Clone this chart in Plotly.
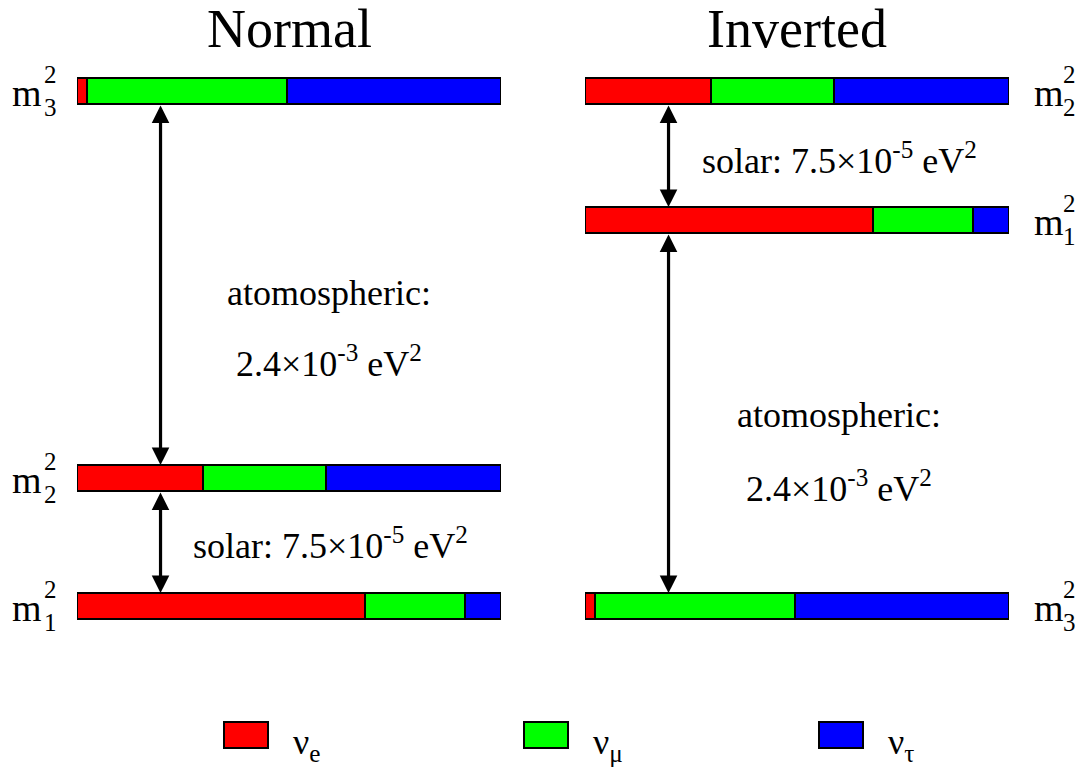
import plotly.graph_objects as go

# ---------------- data ----------------
mass_states = ["1", "2", "3"]
# flavour content of each mass eigenstate (fraction of bar length)
frac_e = [0.680, 0.297, 0.023]
frac_mu = [0.235, 0.290, 0.472]
frac_tau = [0.085, 0.413, 0.505]
flavours = ["ν<sub>e</sub>", "ν<sub>μ</sub>", "ν<sub>τ</sub>"]
panel_titles = ["Normal", "Inverted"]
atm_text = ["atomospheric:", "2.4×10<sup>-3</sup> eV<sup>2</sup>"]
sol_text = "solar: 7.5×10<sup>-5</sup> eV<sup>2</sup>"

# ---------------- layout constants (schematic positions, px) ----------------
W, H = 1075, 772
FONT = "Liberation Serif, Times New Roman, serif"
colors = ["#ff0000", "#00ff00", "#0000ff"]
BAR_H = 26
level_y = {
    "normal": {"3": 91, "2": 478, "1": 606},
    "inverted": {"2": 91, "1": 220, "3": 606},
}
ARROW_X = 0.197


def px(x):
    return x / W


fig = go.Figure()
fracs = [frac_e, frac_mu, frac_tau]
for panel, xa in [("normal", "x"), ("inverted", "x2")]:
    ys = [level_y[panel][m] for m in mass_states]
    for fi in range(3):
        fig.add_trace(go.Bar(
            y=ys, x=fracs[fi], orientation="h", width=BAR_H,
            marker=dict(color=colors[fi], line=dict(color="black", width=2)),
            xaxis=xa, yaxis="y", showlegend=False, hoverinfo="skip",
        ))

ann = []


def text(t, x, y, size=36, xanchor="center", yanchor="middle", yshift=0):
    ann.append(dict(text=t, x=px(x), y=y, xref="paper", yref="y", showarrow=False,
                    xanchor=xanchor, yanchor=yanchor, yshift=yshift,
                    font=dict(size=size, family=FONT, color="black")))


# titles
text(panel_titles[0], 289, 29, size=54)
text(panel_titles[1], 797, 29, size=54)


def mlabel(xm, anchor, yc, idx):
    # "m" with stacked super/subscripts
    if anchor == "right":
        sx = xm - 2
    else:
        sx = xm + 29
    text("m", xm, yc, size=38, xanchor=anchor, yshift=-2)
    text("2", sx, yc, size=25, xanchor="left", yshift=17)
    text(idx, sx, yc, size=25, xanchor="left", yshift=-16)


for m in mass_states:
    mlabel(44, "right", level_y["normal"][m], m)
    mlabel(1032, "left", level_y["inverted"][m], m)


def arrow(xa, y0, y1):
    ann.append(dict(text="", x=ARROW_X, y=y1, ax=ARROW_X, ay=y0, xref=xa, yref="y",
                    axref=xa, ayref="y", showarrow=True, arrowhead=2, startarrowhead=2,
                    arrowside="end+start", arrowsize=1.1, startarrowsize=1.1,
                    arrowwidth=3.2, arrowcolor="black", standoff=0, startstandoff=0))


hb = BAR_H / 2
ln, li = level_y["normal"], level_y["inverted"]
arrow("x", ln["3"] + hb, ln["2"] - hb)
arrow("x", ln["2"] + hb, ln["1"] - hb)
arrow("x2", li["2"] + hb, li["1"] - hb)
arrow("x2", li["1"] + hb, li["3"] - hb)

text(atm_text[0], 329, 293)
text(atm_text[1], 329, 361)
text(atm_text[0], 839, 415)
text(atm_text[1], 839, 486)
text(sol_text, 330, 543)
text(sol_text, 839, 158)

# legend
shapes = []
leg_x = [224, 524, 819]
for i in range(3):
    shapes.append(dict(type="rect", xref="paper", yref="y", x0=px(leg_x[i]), x1=px(leg_x[i] + 44),
                       y0=722, y1=748, fillcolor=colors[i], line=dict(color="black", width=2)))
    text(flavours[i], leg_x[i] + 67, 744, xanchor="left")

fig.update_layout(
    width=W, height=H, margin=dict(l=0, r=0, t=0, b=0),
    paper_bgcolor="white", plot_bgcolor="white",
    barmode="stack", bargap=0,
    xaxis=dict(domain=[px(77), px(501)], range=[0, 1], visible=False, fixedrange=True),
    xaxis2=dict(domain=[px(585), px(1009)], range=[0, 1], visible=False, anchor="y", fixedrange=True),
    yaxis=dict(domain=[0, 1], range=[H, 0], visible=False, fixedrange=True),
    annotations=ann, shapes=shapes, showlegend=False,
)
fig.write_html("out.html", config={"displayModeBar": False},
               post_script="document.body.style.margin='0px';")
